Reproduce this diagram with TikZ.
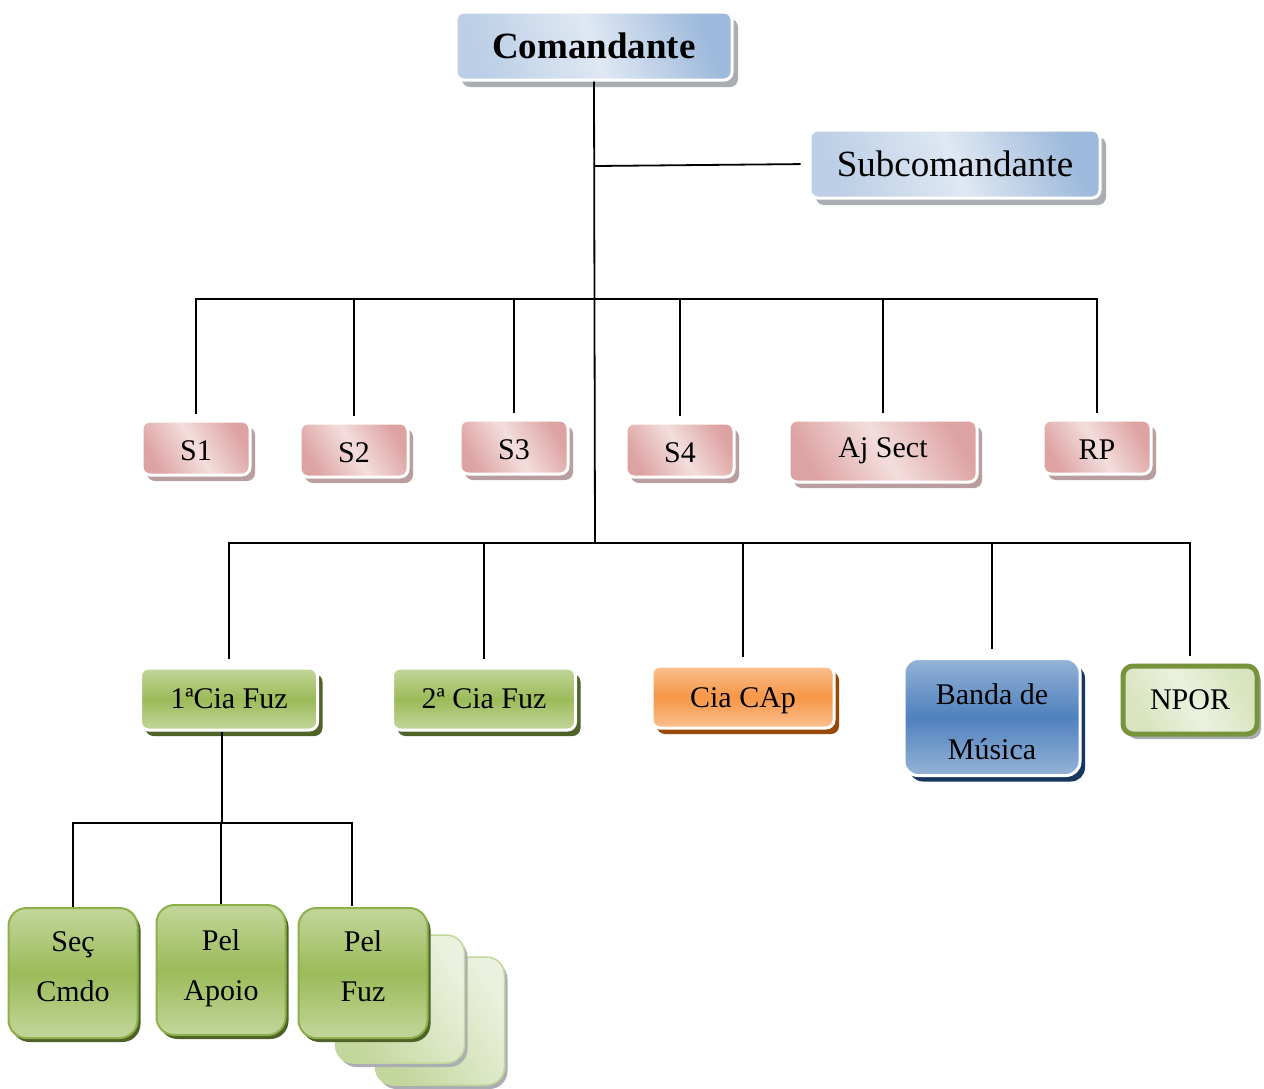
\documentclass[tikz,border=0pt]{standalone}
\usepackage{fontspec}
\setmainfont{Liberation Serif}
\usetikzlibrary{shadows}
\definecolor{bluedk}{HTML}{9DB9DB}
\definecolor{bluelt}{HTML}{DFE8F3}
\definecolor{bluemd}{HTML}{BCCFE6}
\definecolor{pinkdk}{HTML}{DDA3A2}
\definecolor{pinklt}{HTML}{F3DEDD}
\definecolor{pinkshad}{HTML}{B89E9E}
\definecolor{grayshad}{HTML}{AAAEB3}
\definecolor{grnlt}{HTML}{C3D69B}
\definecolor{grnmd}{HTML}{9BBB59}
\definecolor{grndk}{HTML}{4F6228}
\definecolor{grnedge}{HTML}{8DB04A}
\definecolor{orlt}{HTML}{FAC090}
\definecolor{ormd}{HTML}{F79646}
\definecolor{ordk}{HTML}{984807}
\definecolor{bnlt}{HTML}{95B3D7}
\definecolor{bnmd}{HTML}{4F81BD}
\definecolor{bndk}{HTML}{17375E}
\definecolor{nplt}{HTML}{EBF1DE}
\definecolor{npmd}{HTML}{D7E4BD}
\definecolor{npedge}{HTML}{77933C}
% #1 content, #2 extra height (moves text down by half), #3 extra depth (moves text up by half)
\newcommand{\padtext}[3]{\raisebox{0pt}[\dimexpr\height+#2\relax][\dimexpr\depth+#3\relax]{#1}}
\newcommand{\twolines}[2]{\begin{tabular}{@{}c@{}}#1\\#2\end{tabular}}
\tikzset{
  box/.style={rectangle, rounded corners=8pt, inner sep=0pt, align=center,
    font=\fontsize{30}{36}\selectfont},
  bluebox/.style={box, draw=white, line width=3pt,
    general shadow={fill=grayshad, shadow xshift=6pt, shadow yshift=-7pt},
    left color=bluemd, right color=bluedk, middle color=bluelt, shading angle=110,
    font=\fontsize{37}{40}\selectfont},
  pinkbox/.style={box, draw=white, line width=3pt,
    general shadow={fill=pinkshad, shadow xshift=5pt, shadow yshift=-6pt},
    left color=pinkdk, right color=pinkdk, middle color=pinklt, shading angle=120,
    minimum width=108pt, minimum height=54pt},
  grnbox/.style={box, draw=white, line width=3pt,
    general shadow={fill=grndk, shadow xshift=5pt, shadow yshift=-6pt},
    top color=grnlt, bottom color=grnlt, middle color=grnmd,
    minimum height=62pt},
  capbox/.style={box, draw=white, line width=3pt,
    general shadow={fill=ordk, shadow xshift=5pt, shadow yshift=-6pt},
    top color=orlt, bottom color=orlt, middle color=ormd,
    minimum height=62pt},
  bandbox/.style={box, rounded corners=14pt, draw=white, line width=3pt,
    general shadow={fill=bndk, shadow xshift=5pt, shadow yshift=-6pt},
    top color=bnlt, bottom color=bnlt, middle color=bnmd,
    font=\fontsize{30}{55}\selectfont},
  nporbox/.style={box, rounded corners=10pt, draw=npedge, line width=5pt,
    general shadow={fill=grayshad, shadow xshift=4pt, shadow yshift=-5pt},
    left color=npmd, right color=npmd, middle color=nplt, shading angle=120},
  pelbox/.style={box, rounded corners=18pt, draw=grnedge, line width=2pt,
    general shadow={fill=grndk, shadow xshift=3pt, shadow yshift=-4pt},
    top color=grnlt, bottom color=grnlt, middle color=grnmd,
    minimum width=129pt, minimum height=130pt,
    font=\fontsize{30}{50}\selectfont},
  stackbox/.style={box, rounded corners=18pt, draw=grnlt, line width=1.5pt,
    general shadow={fill=grayshad, shadow xshift=3pt, shadow yshift=-4pt},
    left color=grnlt, right color=nplt, shading angle=120,
    minimum width=129pt, minimum height=128pt},
  conn/.style={line width=1.8pt, draw=black}
}
\begin{document}
\begin{tikzpicture}[x=1pt, y=-1pt]
\useasboundingbox (0,0) rectangle (1264,1088);
\fill[white] (0,0) rectangle (1264,1088);

% top
\node[bluebox, minimum width=276pt, minimum height=68pt] (cmd) at (594,46) {\bfseries Comandante};
\node[bluebox, minimum width=290pt, minimum height=68pt] (sub) at (955,164) {Subcomandante};

% staff row
\node[pinkbox] (s1) at (196,448) {\padtext{S1}{5pt}{0pt}};
\node[pinkbox] (s2) at (354,450) {\padtext{S2}{5pt}{0pt}};
\node[pinkbox] (s3) at (514,447) {\padtext{S3}{5pt}{0pt}};
\node[pinkbox] (s4) at (680,450) {\padtext{S4}{5pt}{0pt}};
\node[pinkbox, minimum width=188pt, minimum height=62pt] (aj) at (883,451) {Aj Sect};
\node[pinkbox] (rp) at (1097,447) {\padtext{RP}{5pt}{0pt}};

% company row
\node[grnbox, minimum width=177pt] (c1) at (229,699) {1ªCia Fuz};
\node[grnbox, minimum width=183pt] (c2) at (484,699) {2ª Cia Fuz};
\node[capbox, minimum width=182pt] (cap) at (743,697) {\padtext{Cia CAp}{7pt}{0pt}};
\node[bandbox, minimum width=176pt, minimum height=110pt] (banda) at (992,717) {\padtext{\twolines{Banda de}{Música}}{7pt}{0pt}};
\node[nporbox, minimum width=134pt, minimum height=68pt] (npor) at (1190,700) {NPOR};

% bottom
\node[stackbox] (st2) at (440,1021) {};
\node[stackbox] (st1) at (400,999) {};
\node[pelbox] (sec) at (73,973) {\padtext{\twolines{Seç}{Cmdo}}{0pt}{14pt}};
\node[pelbox] (apoio) at (221,970) {\padtext{\twolines{Pel}{Apoio}}{0pt}{10pt}};
\node[pelbox] (fuz) at (363,973) {\padtext{\twolines{Pel}{Fuz}}{0pt}{14pt}};

% connectors
\coordinate (subj) at (595,166);
\coordinate (sbus) at (595,299);
\coordinate (cbus) at (595,543);
\coordinate (pbus) at (222,823);
\coordinate (fuzdrop) at (352,906);

\draw[conn] (cmd.south) -- (cbus);
\draw[conn, shorten >=8pt] (subj) -- (sub.west);

\draw[conn, shorten <=6pt] (s1.north) |- (sbus);
\draw[conn, shorten >=6pt] (sbus) -| (rp.north);
\foreach \n in {s2,s3,s4,aj}
  \draw[conn, shorten <=6pt] (\n.north) -- (\n.north |- sbus);

\draw[conn, shorten <=8pt] (c1.north) |- (cbus);
\draw[conn, shorten >=8pt] (cbus) -| (npor.north);
\foreach \n in {c2,cap,banda}
  \draw[conn, shorten <=8pt] (\n.north) -- (\n.north |- cbus);

\draw[conn] (c1.south -| pbus) -- (pbus);
\draw[conn] (sec.north) |- (pbus);
\draw[conn] (pbus) -| (fuzdrop);
\draw[conn] (apoio.north) -- (apoio.north |- pbus);
\end{tikzpicture}
\end{document}
